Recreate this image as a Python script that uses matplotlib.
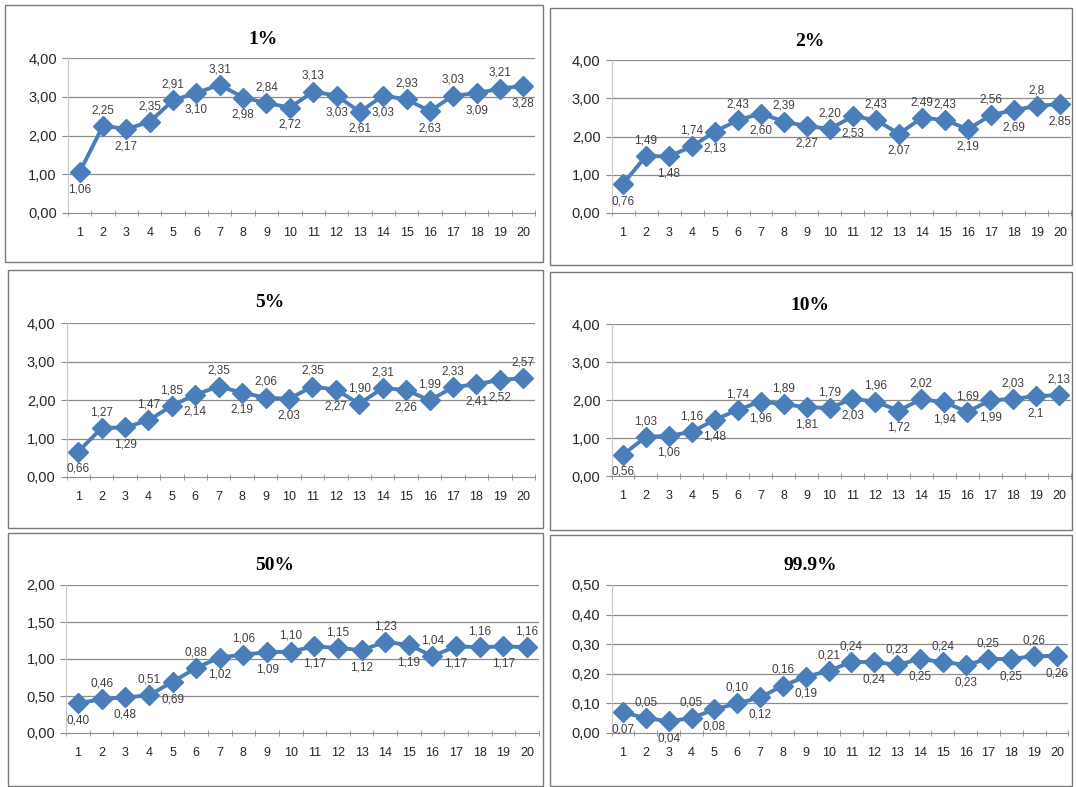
import numpy as np
import matplotlib.pyplot as plt
from matplotlib.patches import Rectangle
from matplotlib.ticker import FuncFormatter

# six panels of the same series, one per percentage level
steps = list(range(1, 21))
titles = ["1%", "2%", "5%", "10%", "50%", "99.9%"]

v1 = [1.06, 2.25, 2.17, 2.35, 2.91, 3.10, 3.31, 2.98, 2.84, 2.72,
      3.13, 3.03, 2.61, 3.03, 2.93, 2.63, 3.03, 3.09, 3.21, 3.28]
v2 = [0.76, 1.49, 1.48, 1.74, 2.13, 2.43, 2.60, 2.39, 2.27, 2.20,
      2.53, 2.43, 2.07, 2.49, 2.43, 2.19, 2.56, 2.69, 2.80, 2.85]
v5 = [0.66, 1.27, 1.29, 1.47, 1.85, 2.14, 2.35, 2.19, 2.06, 2.03,
      2.35, 2.27, 1.90, 2.31, 2.26, 1.99, 2.33, 2.41, 2.52, 2.57]
v10 = [0.56, 1.03, 1.06, 1.16, 1.48, 1.74, 1.96, 1.89, 1.81, 1.79,
       2.03, 1.96, 1.72, 2.02, 1.94, 1.69, 1.99, 2.03, 2.10, 2.13]
v50 = [0.40, 0.46, 0.48, 0.51, 0.69, 0.88, 1.02, 1.06, 1.09, 1.10,
       1.17, 1.15, 1.12, 1.23, 1.19, 1.04, 1.17, 1.16, 1.17, 1.16]
v999 = [0.07, 0.05, 0.04, 0.05, 0.08, 0.10, 0.12, 0.16, 0.19, 0.21,
        0.24, 0.24, 0.23, 0.25, 0.24, 0.23, 0.25, 0.25, 0.26, 0.26]

# label placement: a = above the marker, b = below
pos1 = list("babaababababbbababab")
pos2 = list("bababababababaababab")
pos5 = list("babaababababaabaabba")
pos10 = list("babababababababababa")
pos50 = list("babababababababababa")
pos999 = list("bababababaababababab")

# values typed with one decimal in the source sheet
one_dec = {"2%": [18], "10%": [18]}

ylims = [(0, 4, 1), (0, 4, 1), (0, 4, 1), (0, 4, 1), (0, 2, 0.5), (0, 0.5, 0.1)]
series = [v1, v2, v5, v10, v50, v999]
positions = [pos1, pos2, pos5, pos10, pos50, pos999]

W, H = 1076, 787
# plot areas in pixels: left, right, top(ymax), bottom(0)
areas = [(68, 535, 58, 213), (611.5, 1071.5, 60, 213),
         (66.5, 535, 323, 477), (611.5, 1070.5, 324, 476),
         (66.2, 538.8, 585, 733), (611.6, 1068.4, 585, 733)]
frames = [(5, 5, 543, 262), (550, 8, 1072, 265),
          (8, 270, 543, 528), (550, 272, 1072, 530),
          (8, 533, 543, 786), (550, 535, 1072, 786)]
title_xy = [(263, 40), (810, 42), (270, 303), (810, 305), (275, 565), (810, 565)]

blue = "#4a7ebb"
grid = "#8c8c8c"

fig = plt.figure(figsize=(W / 100, H / 100), dpi=100)

for k in range(6):
    x0, y0, x1, y1 = frames[k]
    fig.add_artist(Rectangle((x0 / W, 1 - y1 / H), (x1 - x0) / W, (y1 - y0) / H,
                             transform=fig.transFigure, fill=False,
                             edgecolor="#7a7a7a", linewidth=1.0))
    l, r, t, b = areas[k]
    ax = fig.add_axes([l / W, 1 - b / H, (r - l) / W, (b - t) / H])
    vals = series[k]
    ax.plot(steps, vals, color=blue, linewidth=2.8, marker="D",
            markersize=10.5, markerfacecolor=blue, markeredgecolor=blue, zorder=3)
    lo, hi, st = ylims[k]
    ax.set_ylim(lo, hi)
    ax.set_xlim(0.5, 20.5)
    ax.set_yticks(np.arange(lo, hi + st / 2, st))
    ax.yaxis.set_major_formatter(FuncFormatter(lambda v, p: f"{v:.2f}".replace(".", ",")))
    ax.set_xticks(steps)
    ax.set_xticks(np.arange(0.5, 21, 1), minor=True)
    ax.tick_params(axis="x", which="major", length=0, pad=10, labelsize=9,
                   labelcolor="#262626")
    ax.tick_params(axis="x", which="minor", length=4, color=grid, direction="inout")
    ax.tick_params(axis="y", length=4, color=grid, labelsize=10.5, labelcolor="#262626",
                   pad=4)
    for yv in np.arange(lo + st, hi + st / 2, st):
        ax.axhline(yv, color=grid, linewidth=0.9, zorder=1)
    for s in ["top", "right"]:
        ax.spines[s].set_visible(False)
    ax.spines["left"].set_color("#c8c8c8")
    ax.spines["bottom"].set_color(grid)
    for lab in ax.get_xticklabels() + ax.get_yticklabels():
        lab.set_fontfamily("Liberation Sans")

    short = one_dec.get(titles[k], [])
    for i, v in enumerate(vals):
        txt = f"{v:.1f}" if i in short else f"{v:.2f}"
        txt = txt.replace(".", ",")
        up = positions[k][i] == "a"
        ax.annotate(txt, (steps[i], v), xytext=(0, 7 if up else -8),
                    textcoords="offset points", ha="center",
                    va="bottom" if up else "top", fontsize=8.5,
                    color="#404040", family="Liberation Sans", zorder=4)

    tx, ty = title_xy[k]
    fig.text(tx / W, 1 - ty / H, titles[k], ha="center", va="center",
             fontsize=14, fontweight="bold", family="Liberation Serif")

fig.savefig("out.png", dpi=100)
